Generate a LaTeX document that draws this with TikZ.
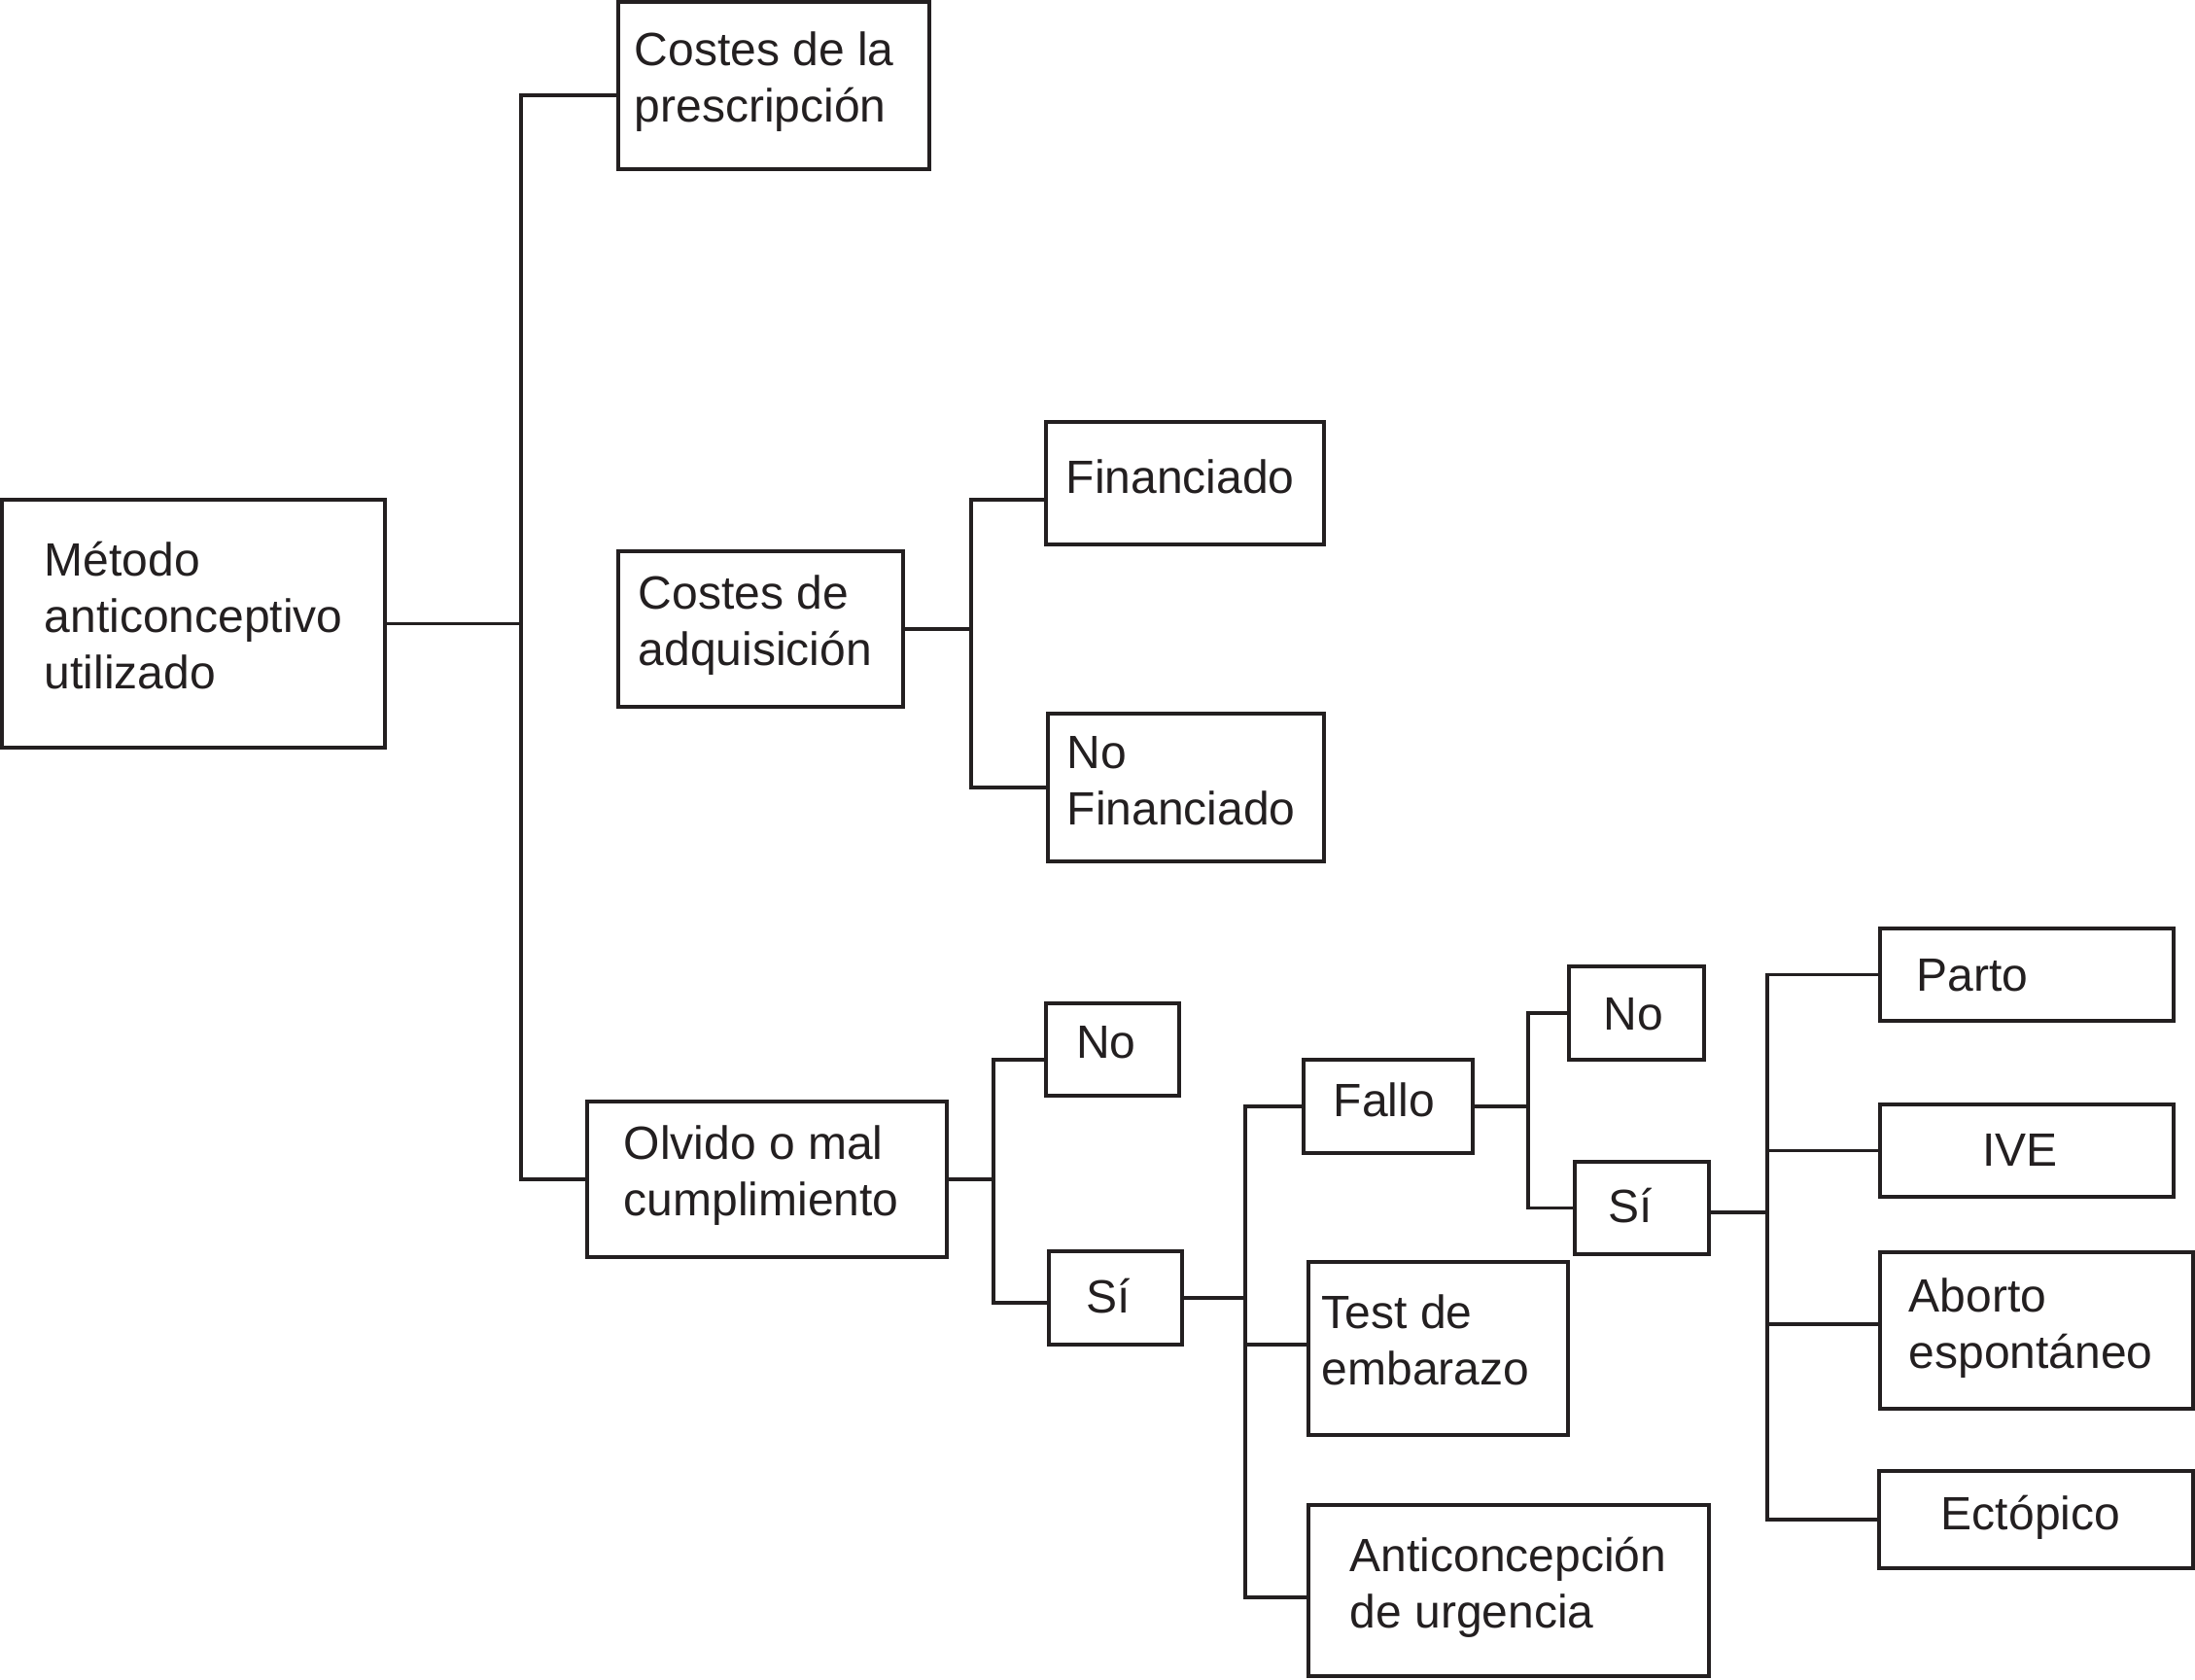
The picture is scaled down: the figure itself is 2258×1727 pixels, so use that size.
\documentclass[tikz,border=0pt]{standalone}
\usepackage{fontspec}
\setmainfont{Liberation Sans}
\usetikzlibrary{fit}
\definecolor{ink}{HTML}{231F20}
\begin{document}
\begin{tikzpicture}[x=0.25pt,y=-0.25pt,
  bx/.style={draw=ink, line width=0.8pt, inner sep=0pt, fit={#1}},
  txt/.style={anchor=base west, align=left, inner sep=0pt, text=ink,
              font=\fontsize{12pt}{14.5pt}\selectfont},
  ctxt/.style={txt, anchor=base},
  link/.style={draw=ink, line width=0.8pt}]
\useasboundingbox (0,0) rectangle (2258,1727);

% boxes
\node[bx={(2,514) (396,769)}]      (metodo) {};
\node[bx={(636,2) (956,174)}]      (cp) {};
\node[bx={(636,567) (929,727)}]    (ca) {};
\node[bx={(1076,434) (1362,560)}]  (fin) {};
\node[bx={(1078,734) (1362,886)}]  (nofin) {};
\node[bx={(604,1133) (974,1293)}]  (olv) {};
\node[bx={(1076,1032) (1213,1127)}] (no1) {};
\node[bx={(1079,1287) (1216,1383)}] (si1) {};
\node[bx={(1341,1090) (1515,1186)}] (fallo) {};
\node[bx={(1346,1298) (1613,1476)}] (test) {};
\node[bx={(1346,1548) (1758,1724)}] (antic) {};
\node[bx={(1614,994) (1753,1090)}]  (no2) {};
\node[bx={(1620,1195) (1758,1290)}] (si2) {};
\node[bx={(1934,955) (2236,1050)}]  (parto) {};
\node[bx={(1934,1136) (2236,1231)}] (ive) {};
\node[bx={(1934,1288) (2256,1449)}] (ab) {};
\node[bx={(1933,1513) (2256,1613)}] (ect) {};

% texts (base anchor = baseline of the last line)
\node[txt] (tmetodo) at (45,708) {Método\\anticonceptivo\\utilizado};
\node[txt] (tcp) at (652,125) {Costes de la\\prescripción};
\node[txt] (tca) at (656,684) {Costes de\\adquisición};
\node[txt] (tfin) at (1096,507) {Financiado};
\node[txt] (tnofin) at (1097,848) {No\\Financiado};
\node[txt] (tolv) at (641,1250) {Olvido o mal\\cumplimiento};
\node[ctxt] (tno1) at (1138,1088) {No};
\node[ctxt] (tsi1) at (1140,1350) {Sí};
\node[txt] (tfallo) at (1371,1148) {Fallo};
\node[txt] (ttest) at (1359,1424) {Test de\\embarazo};
\node[txt] (tantic) at (1388,1674) {Anticoncepción\\de urgencia};
\node[ctxt] (tno2) at (1680,1059) {No};
\node[ctxt] (tsi2) at (1677,1257) {Sí};
\node[txt] (tparto) at (1971,1019) {Parto};
\node[ctxt] (tive) at (2078,1199) {IVE};
\node[txt] (tab) at (1963,1407) {Aborto\\espontáneo};
\node[ctxt] (tect) at (2089,1573) {Ectópico};

% bus coordinates
\coordinate (b1) at (536,0);
\coordinate (b2) at (999,0);
\coordinate (b3) at (1022,0);
\coordinate (b4) at (1281,0);
\coordinate (b5) at (1572,0);
\coordinate (b6) at (1818,0);

% connectors
\draw[link] (metodo.east) -- (metodo.east -| b1);
\draw[link] (cp.west |- 0,98) -| (olv.west -| b1) -- (olv.west);

\draw[link] (ca.east) -- (ca.east -| b2);
\draw[link] (fin.west |- 0,514) -| (nofin.west -| b2) -- (nofin.west);

\draw[link] (olv.east) -- (olv.east -| b3);
\draw[link] (no1.west |- 0,1090) -| (1022,1340) -- (si1.west |- 0,1340);

\draw[link] (si1.east) -- (si1.east -| b4);
\draw[link] (fallo.west) -| (1281,1643) -- (antic.west |- 0,1643);
\draw[link] (test.west |- 0,1383) -- (1281,1383);

\draw[link] (fallo.east) -- (fallo.east -| b5);
\draw[link] (no2.west) -| (si2.west -| b5) -- (si2.west);

\draw[link] (si2.east |- 0,1247) -- (1818,1247);
\draw[link] (parto.west) -| (ect.west -| b6) -- (ect.west);
\draw[link] (ive.west) -- (ive.west -| b6);
\draw[link] (ab.west |- 0,1362) -- (1818,1362);
\end{tikzpicture}
\end{document}
